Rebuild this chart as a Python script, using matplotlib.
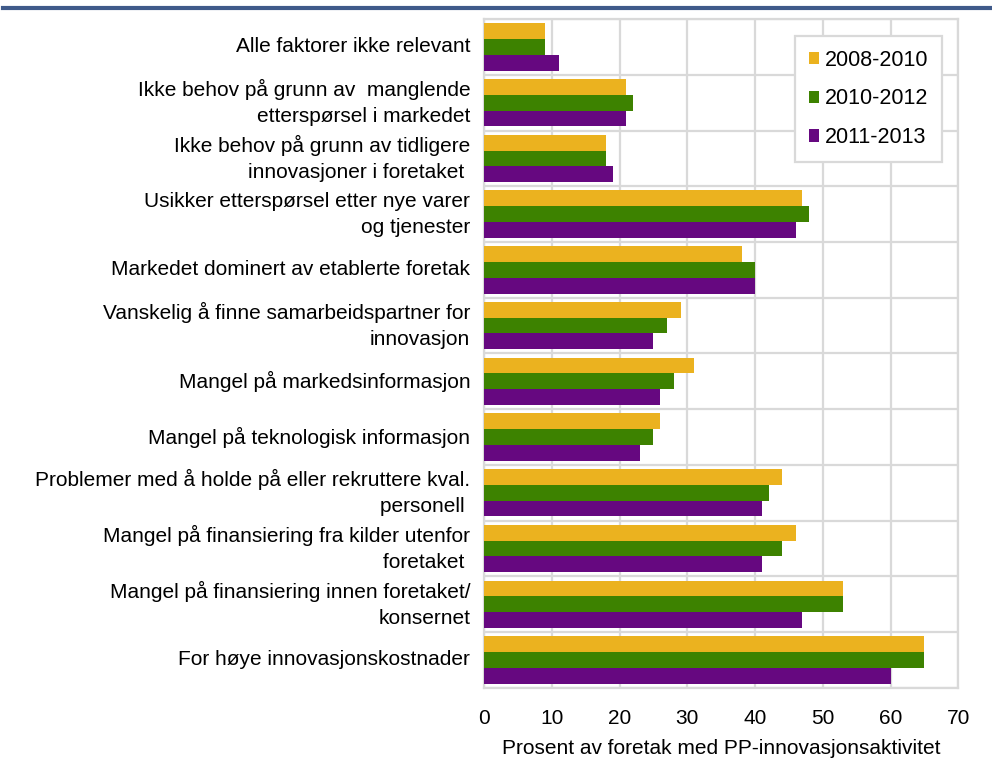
import numpy as np
import matplotlib.pyplot as plt
from matplotlib.lines import Line2D

plt.rcParams['font.family'] = ['Liberation Sans', 'DejaVu Sans']

# Categories (top to bottom as in the chart)
categories = [
    'Alle faktorer ikke relevant',
    'Ikke behov på grunn av  manglende\netterspørsel i markedet',
    'Ikke behov på grunn av tidligere\ninnovasjoner i foretaket ',
    'Usikker etterspørsel etter nye varer\nog tjenester',
    'Markedet dominert av etablerte foretak',
    'Vanskelig å finne samarbeidspartner for\ninnovasjon',
    'Mangel på markedsinformasjon',
    'Mangel på teknologisk informasjon',
    'Problemer med å holde på eller rekruttere kval.\npersonell ',
    'Mangel på finansiering fra kilder utenfor\nforetaket ',
    'Mangel på finansiering innen foretaket/\nkonsernet',
    'For høye innovasjonskostnader',
]
series_names = ['2008-2010', '2010-2012', '2011-2013']
v_2008_2010 = [9, 21, 18, 47, 38, 29, 31, 26, 44, 46, 53, 65]
v_2010_2012 = [9, 22, 18, 48, 40, 27, 28, 25, 42, 44, 53, 65]
v_2011_2013 = [11, 21, 19, 46, 40, 25, 26, 23, 41, 41, 47, 60]
colors = ['#EBB21F', '#3D8200', '#660880']

fig = plt.figure(figsize=(9.92, 7.65), dpi=100)
ax = fig.add_axes([0.488, 0.101, 0.478, 0.874])

y = np.arange(len(categories))
h = 0.283
for i, (vals, name, c) in enumerate(zip([v_2008_2010, v_2010_2012, v_2011_2013],
                                        series_names, colors)):
    ax.barh(y + (i - 1) * h, vals, height=h, color=c, label=name, zorder=3)

ax.set_xlim(0, 70)
ax.set_ylim(len(categories) - 0.5, -0.5)
ax.set_xticks(np.arange(0, 71, 10))
ax.set_yticks(y)
ax.set_yticklabels(categories, fontsize=15, linespacing=1.45, va='center')
ax.set_yticks(np.arange(-0.5, len(categories), 1), minor=True)
ax.tick_params(axis='both', which='both', length=0)
ax.tick_params(axis='x', labelsize=15, pad=15)
ax.tick_params(axis='y', pad=10)

ax.grid(True, axis='x', color='#d9d9d9', linewidth=1.6, zorder=0)
ax.grid(True, axis='y', which='minor', color='#d9d9d9', linewidth=1.6, zorder=0)
for s in ax.spines.values():
    s.set_color('#d9d9d9')
    s.set_linewidth(1.6)

ax.set_xlabel('Prosent av foretak med PP-innovasjonsaktivitet', fontsize=15, labelpad=8)

leg = ax.legend(loc='upper right', bbox_to_anchor=(0.966, 0.975), borderaxespad=0,
                fontsize=15.5, handlelength=0.5, handleheight=0.5, handletextpad=0.25,
                labelspacing=0.82, borderpad=0.65, fancybox=False, framealpha=1)
leg.get_frame().set_edgecolor('#d9d9d9')
leg.get_frame().set_linewidth(1.6)

# blue rule at the top of the figure
fig.add_artist(Line2D([0.003, 1.0], [0.990, 0.990], color='#3F5A8A', linewidth=3,
                      transform=fig.transFigure))

fig.savefig('out.png', dpi=100)
